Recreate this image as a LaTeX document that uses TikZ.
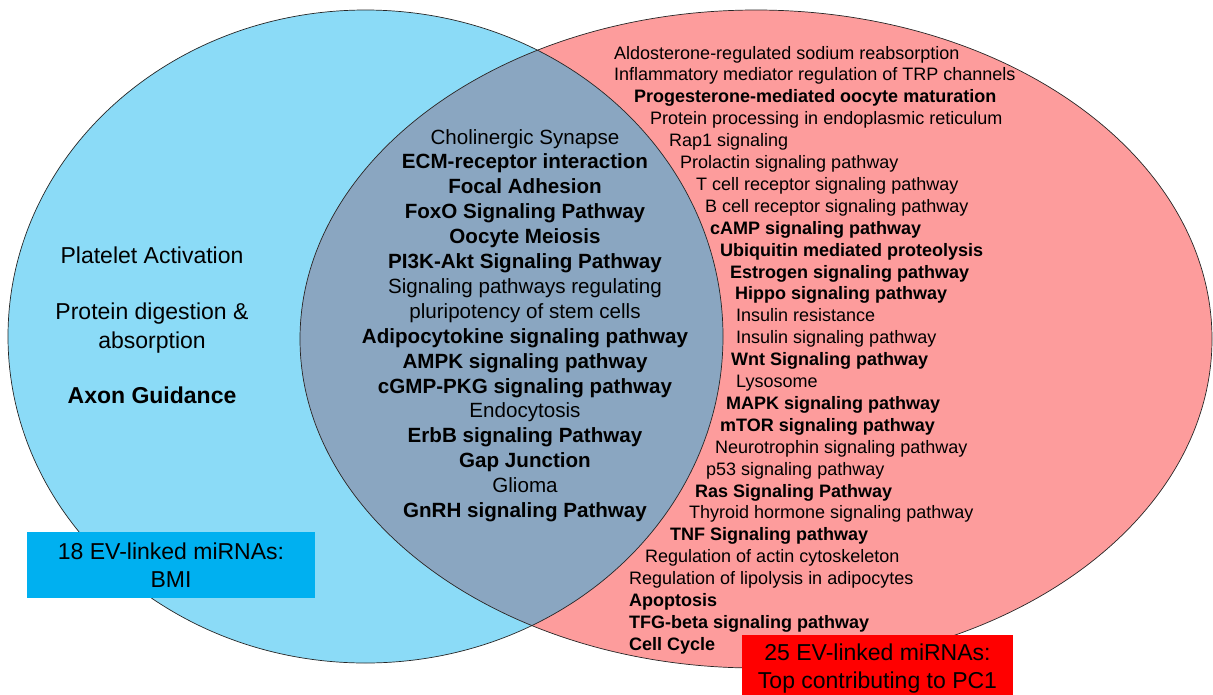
\documentclass[tikz,border=0pt]{standalone}
\usepackage{fontspec}
\setmainfont{Liberation Sans}
\definecolor{bluefill}{HTML}{8BDBF7}
\definecolor{redfill}{HTML}{FD9C9C}
\definecolor{overlapfill}{HTML}{8AA6C1}
\definecolor{blueboxfill}{HTML}{00B0F0}
\definecolor{redboxfill}{HTML}{FF0000}
\begin{document}
\begin{tikzpicture}[x=1pt,y=-1pt,
  outline/.style={draw=black!85,line width=0.7pt},
  lefttext/.style={anchor=base,inner sep=0,font=\fontsize{23}{27}\selectfont},
  midtext/.style={anchor=base,inner sep=0,font=\fontsize{20.6}{24.9}\selectfont},
  midbold/.style={midtext,font=\fontsize{20.6}{24.9}\selectfont\bfseries},
  rl/.style={anchor=base west,inner sep=0,font=\fontsize{18}{21.9}\selectfont},
  rlb/.style={rl,font=\fontsize{18}{21.9}\selectfont\bfseries},
  labelbox/.style={inner sep=0,align=center,text=black,font=\fontsize{23}{28}\selectfont}]
\useasboundingbox (0,0) rectangle (1213,694);
\clip (0,0) rectangle (1213,694);
% sets
\fill[bluefill] (365.5,336.5) ellipse [x radius=357.5,y radius=326.5];
\fill[redfill] (756,339) ellipse [x radius=456,y radius=329];
\begin{scope}
  \clip (365.5,336.5) ellipse [x radius=357.5,y radius=326.5];
  \fill[overlapfill] (756,339) ellipse [x radius=456,y radius=329];
\end{scope}
\draw[outline] (365.5,336.5) ellipse [x radius=357.5,y radius=326.5];
\draw[outline] (756,339) ellipse [x radius=456,y radius=329];
% left only
\node[lefttext] (l1) at (152,263) {Platelet Activation};
\node[lefttext] (l2) at (152,319) {Protein digestion \&};
\node[lefttext] (l3) at (152,348) {absorption};
\node[lefttext,font=\fontsize{23}{27}\selectfont\bfseries] (l4) at (152,403) {Axon Guidance};
% overlap
\node[midtext] (m1) at (525,144.0) {Cholinergic Synapse};
\node[midbold] (m2) at (525,168.9) {ECM-receptor interaction};
\node[midbold] (m3) at (525,193.8) {Focal Adhesion};
\node[midbold] (m4) at (525,218.7) {FoxO Signaling Pathway};
\node[midbold] (m5) at (525,243.6) {Oocyte Meiosis};
\node[midbold] (m6) at (525,268.5) {PI3K-Akt Signaling Pathway};
\node[midtext] (m7) at (525,293.4) {Signaling pathways regulating};
\node[midtext] (m8) at (525,318.3) {pluripotency of stem cells};
\node[midbold] (m9) at (525,343.2) {Adipocytokine signaling pathway};
\node[midbold] (m10) at (525,368.1) {AMPK signaling pathway};
\node[midbold] (m11) at (525,393.0) {cGMP-PKG signaling pathway};
\node[midtext] (m12) at (525,417.9) {Endocytosis};
\node[midbold] (m13) at (525,442.8) {ErbB signaling Pathway};
\node[midbold] (m14) at (525,467.7) {Gap Junction};
\node[midtext] (m15) at (525,492.6) {Glioma};
\node[midbold] (m16) at (525,517.5) {GnRH signaling Pathway};
% right only
\node[rl] (r1) at (614,59.0) {Aldosterone-regulated sodium reabsorption};
\node[rl] (r2) at (614,80.9) {Inflammatory mediator regulation of TRP channels};
\node[rlb] (r3) at (634,102.8) {Progesterone-mediated oocyte maturation};
\node[rl] (r4) at (650,124.7) {Protein processing in endoplasmic reticulum};
\node[rl] (r5) at (669,146.6) {Rap1 signaling};
\node[rl] (r6) at (680,168.5) {Prolactin signaling pathway};
\node[rl] (r7) at (696,190.4) {T cell receptor signaling pathway};
\node[rl] (r8) at (705,212.3) {B cell receptor signaling pathway};
\node[rlb] (r9) at (710,234.2) {cAMP signaling pathway};
\node[rlb] (r10) at (720,256.1) {Ubiquitin mediated proteolysis};
\node[rlb] (r11) at (730,278.0) {Estrogen signaling pathway};
\node[rlb] (r12) at (735,299.9) {Hippo signaling pathway};
\node[rl] (r13) at (736,321.8) {Insulin resistance};
\node[rl] (r14) at (736,343.7) {Insulin signaling pathway};
\node[rlb] (r15) at (731,365.6) {Wnt Signaling pathway};
\node[rl] (r16) at (736,387.5) {Lysosome};
\node[rlb] (r17) at (726,409.4) {MAPK signaling pathway};
\node[rlb] (r18) at (720,431.3) {mTOR signaling pathway};
\node[rl] (r19) at (715,453.2) {Neurotrophin signaling pathway};
\node[rl] (r20) at (706,475.1) {p53 signaling pathway};
\node[rlb] (r21) at (695,497.0) {Ras Signaling Pathway};
\node[rl] (r22) at (689,518.9) {Thyroid hormone signaling pathway};
\node[rlb] (r23) at (670,540.8) {TNF Signaling pathway};
\node[rl] (r24) at (645,562.7) {Regulation of actin cytoskeleton};
\node[rl] (r25) at (629,584.6) {Regulation of lipolysis in adipocytes};
\node[rlb] (r26) at (629,606.5) {Apoptosis};
\node[rlb] (r27) at (629,628.4) {TFG-beta signaling pathway};
\node[rlb] (r28) at (629,650.3) {Cell Cycle};
% labels
\node[labelbox,fill=blueboxfill,minimum width=288,minimum height=66] (bmi) at (171,565) {18 EV-linked miRNAs:\\BMI};
\node[labelbox,fill=redboxfill,minimum width=271,minimum height=67] (pc1) at (877.5,668.5) {25 EV-linked miRNAs:\\Top contributing to PC1};
\end{tikzpicture}
\end{document}
